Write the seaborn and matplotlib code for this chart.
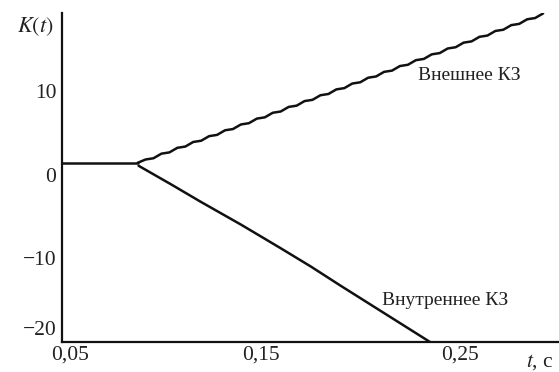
import seaborn as sns
import numpy as np
import matplotlib.pyplot as plt
import matplotlib.transforms as mtransforms
import pandas as pd

# values
t_flat = [0.050, 0.0880]
k_flat = [1.45, 1.45]

# external fault: slowly rising, slightly wavy
t_ext = [0.088, 0.092, 0.096, 0.100, 0.104, 0.108, 0.112, 0.116, 0.120, 0.124,
         0.128, 0.132, 0.136, 0.140, 0.144, 0.148, 0.152, 0.156, 0.160, 0.164,
         0.168, 0.172, 0.176, 0.180, 0.184, 0.188, 0.192, 0.196, 0.200, 0.204,
         0.208, 0.212, 0.216, 0.220, 0.224, 0.228, 0.232, 0.236, 0.240, 0.244,
         0.248, 0.252, 0.256, 0.260, 0.264, 0.268, 0.272, 0.276, 0.280, 0.284,
         0.288, 0.292]
k_ext = [1.45, 1.85, 2.00, 2.55, 2.70, 3.25, 3.40, 3.95, 4.10, 4.65,
         4.80, 5.35, 5.50, 6.05, 6.20, 6.75, 6.90, 7.45, 7.60, 8.15,
         8.30, 8.85, 9.00, 9.55, 9.70, 10.25, 10.40, 10.95, 11.10, 11.65,
         11.80, 12.35, 12.50, 13.05, 13.20, 13.75, 13.90, 14.45, 14.60, 15.15,
         15.30, 15.85, 16.00, 16.55, 16.70, 17.25, 17.40, 17.95, 18.10, 18.65,
         18.80, 19.35]

# internal fault: falling
t_int = [0.0885, 0.105, 0.120, 0.140, 0.1597, 0.175, 0.190, 0.210, 0.235]
k_int = [1.10, -1.15, -3.25, -5.95, -8.74, -10.95, -13.25, -16.25, -20.0]

x_ticks = [0.05, 0.15, 0.25]
x_labels = ["0,05", "0,15", "0,25"]
y_ticks = [-20, -10, 0, 10]
y_labels = ["\u221220", "\u221210", "0", "10"]

sns.set_theme(style="white")
plt.rcParams["font.family"] = ["Liberation Serif", "DejaVu Serif"]
plt.rcParams["mathtext.fontset"] = "stix"

fig = plt.figure(figsize=(5.59, 3.72), dpi=100)
ax = fig.add_axes([0.111, 0.081, 0.889, 0.884])

line_kw = dict(color="#111111", linewidth=1.8, estimator=None, sort=False)
sns.lineplot(x=t_flat, y=k_flat, ax=ax, **line_kw)
sns.lineplot(x=t_ext, y=k_ext, ax=ax, **line_kw)
sns.lineplot(x=t_int, y=k_int, ax=ax, **line_kw)

ax.set_xlim(0.05, 0.30)
ax.set_ylim(-20, 19.4)

ax.set_xticks(x_ticks)
ax.set_xticklabels(x_labels)
ax.set_xticks([0.10, 0.20], minor=True)
ax.set_yticks(y_ticks)
ax.set_yticklabels(y_labels)
ax.set_yticks([-15, -5, 5, 15], minor=True)

ax.tick_params(which="both", direction="in", length=3, width=0.8,
               color="#777777", labelsize=15.5, labelcolor="#222222", pad=4)
ax.tick_params(axis="x", pad=3)

# the scan has the bottom y label lifted and the first x label nudged right
lift = mtransforms.ScaledTranslation(0, 10 / 72, fig.dpi_scale_trans)
ax.get_yticklabels()[0].set_transform(ax.get_yticklabels()[0].get_transform() + lift)
nudge = mtransforms.ScaledTranslation(6 / 72, 0, fig.dpi_scale_trans)
ax.get_xticklabels()[0].set_transform(ax.get_xticklabels()[0].get_transform() + nudge)

for side in ["top", "right"]:
    ax.spines[side].set_visible(False)
for side in ["left", "bottom"]:
    ax.spines[side].set_color("#111111")
    ax.spines[side].set_linewidth(1.6)

ax.set_xlabel("")
ax.set_ylabel("")

ax.text(0.255, 11.9, "Внешнее КЗ", fontsize=14, ha="center", va="center",
        color="#222222")
ax.text(0.2425, -15.1, "Внутреннее КЗ", fontsize=14, ha="center", va="center",
        color="#222222")

fig.text(0.063, 0.928, r"$K(t)$", fontsize=16, ha="center", va="center",
         color="#222222")
fig.text(0.966, 0.027, r"$t$, с", fontsize=15.5, ha="center", va="center",
         color="#222222")

fig.savefig("out.png", dpi=100)
